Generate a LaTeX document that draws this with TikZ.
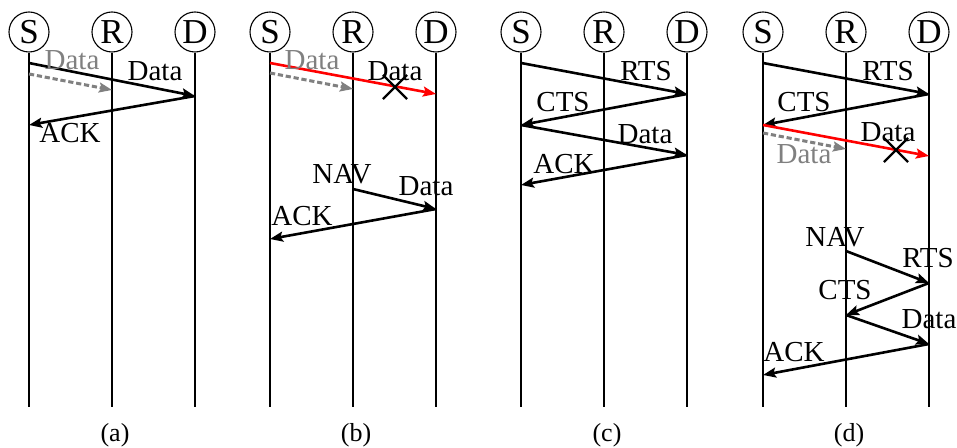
\documentclass[tikz,border=0pt]{standalone}
\usepackage{fontspec}
\setmainfont{Liberation Serif}
\usetikzlibrary{arrows.meta, shapes.misc}

\tikzset{
    station/.style={draw, circle, line width=0.55pt, minimum size=20pt, inner sep=0pt, font=\fontsize{17.5}{19}\selectfont},
    lifeline/.style={line width=0.55pt},
    msg/.style={line width=1.3pt, -{Stealth[length=6.5pt, width=5pt, inset=1.2pt]}},
    lost/.style={msg, red},
    heard/.style={msg, gray, line width=1.5pt, dash pattern=on 2.6pt off 1.4pt},
    lbl/.style={inner sep=0pt, font=\fontsize{14.5}{16}\selectfont},
    graylbl/.style={lbl, text=gray},
    caption/.style={inner sep=0pt, font=\fontsize{13}{15}\selectfont},
    collision/.style={draw, cross out, line width=1.1pt, minimum size=11pt, inner sep=0pt}
}

\begin{document}
\begin{tikzpicture}[x=0.5pt, y=-0.5pt]
    \useasboundingbox (0,0) rectangle (957,448);
    % Define dimensions
    \def\gap{83}
    \def\bottom{407}
    % Stations, lifelines and captions of the four panels
    \foreach \p/\x in {a/29, b/270, c/521, d/763}
    {
        \node[station] (\p S) at (\x,32) {S};
        \node[station] (\p R) at (\x+\gap,32) {R};
        \node[station] (\p D) at (\x+2*\gap,32) {D};
        \foreach \n in {S,R,D}
            \draw[lifeline] (\p\n) -- (\p\n |- 0,\bottom);
        \node[caption] (\p cap) at (\x+\gap+3,435) {(\p)};
    }
    % Panel (a)
    \coordinate (aS1) at (aS |- 0,63);
    \coordinate (aD1) at (aD |- 0,96);
    \coordinate (aS2) at (aS |- 0,125);
    \coordinate (aSg) at (aS |- 0,74);
    \coordinate (aRg) at (aR |- 0,90);
    \draw[msg] (aS1) -- (aD1);
    \draw[msg] (aD1) -- (aS2);
    \draw[heard] (aSg) -- (aRg);
    \node[graylbl] (adatag) at (72,60) {Data};
    \node[lbl] (adata) at (155,71) {Data};
    \node[lbl] (aack) at (70,133) {ACK};
    % Panel (b)
    \coordinate (bS1) at (bS |- 0,63);
    \coordinate (bD1) at (bD |- 0,94);
    \coordinate (bSg) at (bS |- 0,73);
    \coordinate (bRg) at (bR |- 0,89);
    \coordinate (bR2) at (bR |- 0,189);
    \coordinate (bD2) at (bD |- 0,209);
    \coordinate (bS2) at (bS |- 0,239);
    \draw[lost] (bS1) -- (bD1);
    \draw[heard] (bSg) -- (bRg);
    \draw[msg] (bR2) -- (bD2);
    \draw[msg] (bD2) -- (bS2);
    \node[graylbl] (bdatag) at (312,60) {Data};
    \node[lbl] (bdata) at (395,71) {Data};
    \node[collision] (bx) at (395,87) {};
    \node[lbl] (bnav) at (342,174) {NAV};
    \node[lbl] (bdata2) at (426,186) {Data};
    \node[lbl] (back) at (302,216) {ACK};
    % Panel (c)
    \coordinate (cS1) at (cS |- 0,63);
    \coordinate (cD1) at (cD |- 0,94);
    \coordinate (cS2) at (cS |- 0,125);
    \coordinate (cD2) at (cD |- 0,155);
    \coordinate (cS3) at (cS |- 0,185);
    \draw[msg] (cS1) -- (cD1);
    \draw[msg] (cD1) -- (cS2);
    \draw[msg] (cS2) -- (cD2);
    \draw[msg] (cD2) -- (cS3);
    \node[lbl] (crts) at (646,71) {RTS};
    \node[lbl] (ccts) at (563,102) {CTS};
    \node[lbl] (cdata) at (645,134) {Data};
    \node[lbl] (cack) at (564,164) {ACK};
    % Panel (d)
    \coordinate (dS1) at (dS |- 0,63);
    \coordinate (dD1) at (dD |- 0,94);
    \coordinate (dS2) at (dS |- 0,125);
    \coordinate (dD2) at (dD |- 0,156);
    \coordinate (dSg) at (dS |- 0,133);
    \coordinate (dRg) at (dR |- 0,149);
    \coordinate (dR3) at (dR |- 0,251);
    \coordinate (dD3) at (dD |- 0,283);
    \coordinate (dR4) at (dR |- 0,315);
    \coordinate (dD4) at (dD |- 0,344);
    \coordinate (dS5) at (dS |- 0,375);
    \draw[msg] (dS1) -- (dD1);
    \draw[msg] (dD1) -- (dS2);
    \draw[lost] (dS2) -- (dD2);
    \draw[heard] (dSg) -- (dRg);
    \draw[msg] (dR3) -- (dD3);
    \draw[msg] (dD3) -- (dR4);
    \draw[msg] (dR4) -- (dD4);
    \draw[msg] (dD4) -- (dS5);
    \node[lbl] (drts) at (888,71) {RTS};
    \node[lbl] (dcts) at (804,102) {CTS};
    \node[lbl] (ddata) at (888,132) {Data};
    \node[collision] (dx) at (896,150) {};
    \node[graylbl] (ddatag) at (804,154) {Data};
    \node[lbl] (dnav) at (835,237) {NAV};
    \node[lbl] (drts2) at (928,258) {RTS};
    \node[lbl] (dcts2) at (845,290) {CTS};
    \node[lbl] (ddata2) at (929,319) {Data};
    \node[lbl] (dack) at (794,352) {ACK};
\end{tikzpicture}
\end{document}
